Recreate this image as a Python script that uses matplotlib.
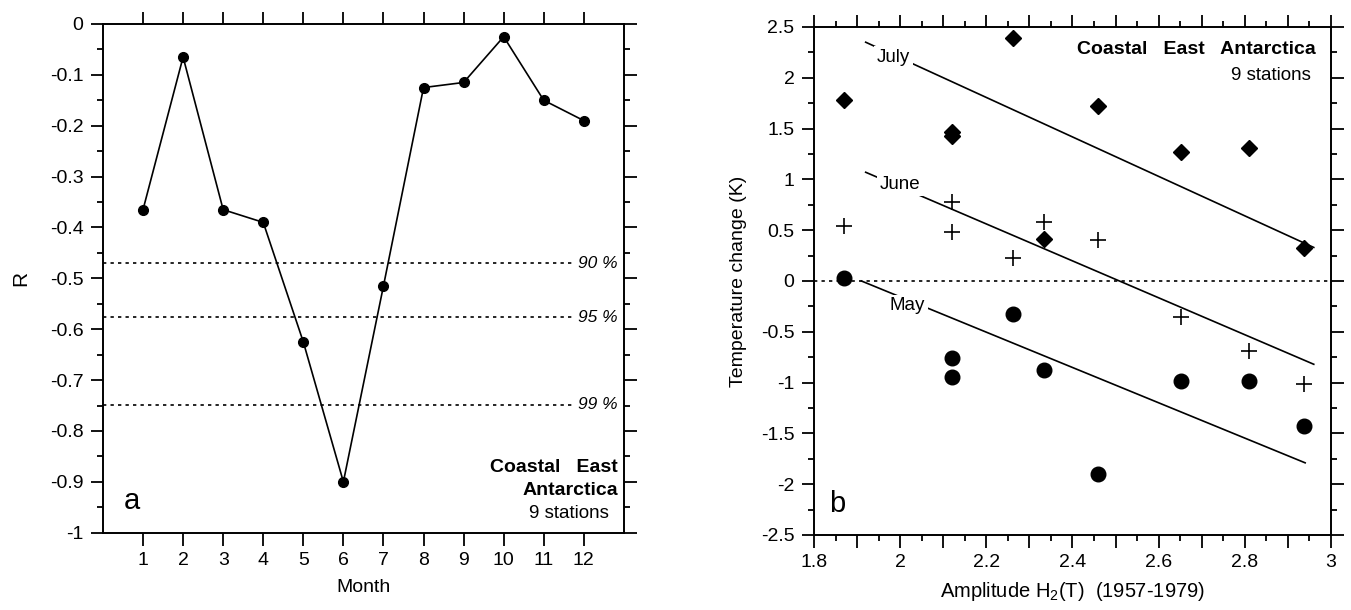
import numpy as np
import matplotlib
matplotlib.use("Agg")
import matplotlib.pyplot as plt
from matplotlib.ticker import MultipleLocator, FuncFormatter, FixedLocator

plt.rcParams['font.family'] = ['Liberation Sans', 'DejaVu Sans']
plt.rcParams['axes.unicode_minus'] = False
plt.rcParams['mathtext.fontset'] = 'custom'
plt.rcParams['mathtext.rm'] = 'Liberation Sans'
plt.rcParams['mathtext.default'] = 'regular'

# panel a: correlation per month
months = [1, 2, 3, 4, 5, 6, 7, 8, 9, 10, 11, 12]
r_values = [-0.365, -0.065, -0.365, -0.39, -0.625, -0.90, -0.515, -0.125, -0.115, -0.025, -0.15, -0.19]
sig_levels = [-0.47, -0.576, -0.748]
sig_labels = ["90 %", "95 %", "99 %"]

# panel b: temperature change vs amplitude, 9 stations
amplitude = [1.87, 2.12, 2.12, 2.262, 2.333, 2.46, 2.652, 2.81, 2.937]
july = [1.78, 1.43, 1.47, 2.39, 0.41, 1.72, 1.27, 1.31, 0.32]
june = [0.54, 0.78, 0.48, 0.23, 0.58, 0.40, -0.35, -0.69, -1.01]
may = [0.03, -0.76, -0.95, -0.325, -0.875, -1.90, -0.98, -0.98, -1.43]

# regression lines (end points)
july_fit_x, july_fit_y = [1.92, 2.96], [2.35, 0.33]
june_fit_x, june_fit_y = [1.92, 2.96], [1.07, -0.82]
may_fit_x, may_fit_y = [1.91, 2.94], [0.0, -1.79]
fit_labels = ["July", "June", "May"]
fit_label_pos = [(1.985, 2.2), (2.0, 0.945), (2.016, -0.245)]

fmt = FuncFormatter(lambda v, p: "{0:g}".format(round(v, 3)))

fig = plt.figure(figsize=(13.51, 6.10), dpi=100)
ax1 = fig.add_axes([0.0762, 0.1267, 0.3856, 0.834])
ax2 = fig.add_axes([0.6025, 0.123, 0.3827, 0.8328])

for ax in (ax1, ax2):
    for s in ax.spines.values():
        s.set_linewidth(1.4)
    ax.tick_params(which='both', direction='out', top=True, right=True,
                   labelsize=14, width=1.3, pad=5)
    ax.tick_params(which='major', length=9)
    ax.tick_params(which='minor', length=4.5)

# ---- panel a
ax1.plot(months, r_values, color='black', lw=1.2, marker='o', ms=7, zorder=3)
for lev, lab in zip(sig_levels, sig_labels):
    ax1.plot([0, 11.72], [lev, lev], color='black', lw=1.2, ls=(0, (2, 2.5)))
    ax1.text(11.85, lev, lab, fontsize=12.5, style='italic', va='center', ha='left')

ax1.set_xlim(0, 13)
ax1.set_ylim(-1, 0)
ax1.xaxis.set_major_locator(FixedLocator(months))
ax1.set_xticklabels([str(m) for m in months])
ax1.yaxis.set_major_locator(MultipleLocator(0.1))
ax1.yaxis.set_minor_locator(MultipleLocator(0.05))
ax1.yaxis.set_major_formatter(fmt)
ax1.set_xlabel("Month", fontsize=14, labelpad=7)
ax1.set_ylabel("R", fontsize=15, labelpad=14)

ax1.text(12.85, -0.88, "Coastal   East", fontsize=14, fontweight='bold', ha='right', va='baseline')
ax1.text(12.85, -0.925, "Antarctica", fontsize=14, fontweight='bold', ha='right', va='baseline')
ax1.text(12.63, -0.972, "9 stations", fontsize=13.5, ha='right', va='baseline')
ax1.text(0.72, -0.937, "a", fontsize=21, ha='center', va='center')

# ---- panel b
ax2.axhline(0, color='black', lw=1.2, ls=(0, (2, 2.5)))
ax2.plot(amplitude, july, ls='none', marker='D', ms=8.5, color='black')
ax2.plot(amplitude, june, ls='none', marker='+', ms=11, mew=1.2, color='black')
ax2.plot(amplitude, may, ls='none', marker='o', ms=10.5, color='black')

for fx, fy in [(july_fit_x, july_fit_y), (june_fit_x, june_fit_y), (may_fit_x, may_fit_y)]:
    ax2.plot(fx, fy, color='black', lw=1.2)
for lab, (lx, ly) in zip(fit_labels, fit_label_pos):
    ax2.text(lx, ly, lab, fontsize=13.5, ha='center', va='center', zorder=5,
             bbox=dict(facecolor='white', edgecolor='none', pad=2))

ax2.set_xlim(1.8, 3.0)
ax2.set_ylim(-2.5, 2.5)
ax2.xaxis.set_major_locator(MultipleLocator(0.1))
ax2.xaxis.set_minor_locator(MultipleLocator(0.05))
ax2.xaxis.set_major_formatter(FuncFormatter(
    lambda v, p: "{0:g}".format(round(v, 2)) if abs(round(v * 10) % 2) < 0.5 else ""))
ax2.yaxis.set_major_locator(MultipleLocator(0.5))
ax2.yaxis.set_minor_locator(MultipleLocator(0.25))
ax2.yaxis.set_major_formatter(fmt)
ax2.set_xlabel("Amplitude H$_2$(T)  (1957-1979)", fontsize=14.5, labelpad=6)
ax2.set_ylabel("Temperature change (K)", fontsize=14, labelpad=10)

ax2.text(2.965, 2.23, "Coastal   East   Antarctica", fontsize=14, fontweight='bold', ha='right', va='baseline')
ax2.text(2.953, 1.98, "9 stations", fontsize=13.5, ha='right', va='baseline')
ax2.text(1.853, -2.2, "b", fontsize=21, ha='center', va='center')

fig.savefig("out.png", dpi=100)
